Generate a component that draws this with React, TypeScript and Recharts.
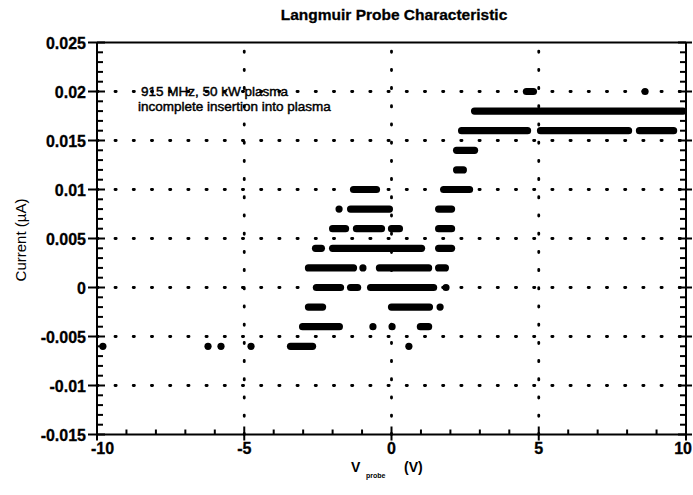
import React from 'react';
import { ScatterChart, Scatter, XAxis, YAxis, ReferenceLine } from 'recharts';

// Readings are quantised to 0.002 µA steps and packed so tightly in voltage
// that they merge into runs: each run is [start V, end V] at one current level.
const runCurrent = [0.02, 0.018, 0.016, 0.016, 0.016, 0.014, 0.012, 0.01, 0.01, 0.008, 0.008, 0.006, 0.006, 0.006, 0.006, 0.004, 0.004, 0.004, 0.002, 0.002, 0.002, 0, 0, 0, -0.002, -0.002, -0.004, -0.004, -0.006];
const runStart = [4.58, 2.82, 2.38, 5.06, 8.42, 2.21, 2.21, -1.29, 1.77, -1.39, 1.6, -2.0, -1.19, 0, 1.6, -2.58, -2.0, 1.6, -2.82, -0.41, 1.6, -2.55, -1.39, -0.71, -2.82, 0, -3.02, 0.98, -3.43];
const runEnd = [4.82, 9.9, 4.62, 8.05, 9.58, 2.82, 2.44, -0.51, 2.65, -0.07, 2.04, -1.56, -0.34, 0.27, 2.04, -2.38, 1.02, 2.04, -1.29, 1.26, 1.83, -1.73, -1.15, 1.43, -2.34, 1.29, -1.77, 1.26, -2.68];

// isolated readings
const singleV = [8.61, -1.78, -0.97, 1.85, 1.65, -0.63, 0.02, -9.8, -6.23, -5.79, -4.77, 0.59];
const singleI = [0.02, 0.008, 0.002, 0, -0.002, -0.004, -0.004, -0.006, -0.006, -0.006, -0.006, -0.006];

// axes
const xDomain = [-10, 10];
const yDomain = [-0.015, 0.025];
const xMajor = [-10, -5, 0, 5, 10];
const yMajor = [-0.015, -0.01, -0.005, 0, 0.005, 0.01, 0.015, 0.02, 0.025];
const gridX = [-5, 0, 5];
const gridY = [-0.01, -0.005, 0, 0.005, 0.01, 0.015, 0.02];

const runs = runCurrent.map((c, k) => ({ c, a: runStart[k], b: runEnd[k] }));
const singles = singleV.map((v, k) => ({ v, i: singleI[k] }));

// minor ticks: every 1 V and every 0.001 µA
const xTicks: number[] = [];
for (let k = -10; k <= 10; k++) xTicks.push(k);
const yTicks: number[] = [];
for (let k = -15; k <= 25; k++) yTicks.push(k / 1000);

const isMajorX = (v: number) => xMajor.includes(v);
const isMajorY = (v: number) => yMajor.some((m) => Math.abs(m - v) < 1e-6);

const FONT = '"Liberation Sans", Arial, Helvetica, sans-serif';
const INK = '#000';

// custom ticks: tickSize/tickMargin are 0 so (x, y) sit on the axis line
const BottomTick = (props: any) => {
    const { x, y, payload } = props;
    const v = payload.value;
    const major = isMajorX(v);
    // end labels are kept inside the page, as in the original
    const anchor = v === xDomain[0] ? 'start' : v === xDomain[1] ? 'end' : 'middle';
    const tx = v === xDomain[0] ? x - 6 : v === xDomain[1] ? x + 6 : x;
    return (
        <g>
            <line x1={x} x2={x} y1={major ? y - 8 : y - 5} y2={major ? y + 6 : y} stroke={INK} strokeWidth={2} />
            {major && (
                <text x={tx} y={y + 19} textAnchor={anchor} fontFamily={FONT} fontWeight="bold" fontSize={16} fill={INK} stroke={INK} strokeWidth={0.3}>
                    {v}
                </text>
            )}
        </g>
    );
};

const TopTick = (props: any) => {
    const { x, y, payload } = props;
    const major = isMajorX(payload.value);
    return <line x1={x} x2={x} y1={major ? y - 6 : y} y2={major ? y + 7 : y + 4} stroke={INK} strokeWidth={2} />;
};

const LeftTick = (props: any) => {
    const { x, y, payload } = props;
    const major = isMajorY(payload.value);
    return (
        <g>
            <line x1={major ? x - 9 : x} x2={major ? x + 8 : x + 6} y1={y} y2={y} stroke={INK} strokeWidth={2} />
            {major && (
                <text x={x - 11} y={y + 6} textAnchor="end" fontFamily={FONT} fontWeight="bold" fontSize={16} fill={INK} stroke={INK} strokeWidth={0.3}>
                    {String(Math.round(payload.value * 1000) / 1000)}
                </text>
            )}
        </g>
    );
};

const RightTick = (props: any) => {
    const { x, y, payload } = props;
    const major = isMajorY(payload.value);
    return <line x1={major ? x - 8 : x - 6} x2={major ? x + 6 : x} y1={y} y2={y} stroke={INK} strokeWidth={2} />;
};

const dotShape = (p: any) => <circle cx={p.cx} cy={p.cy} r={3.6} fill={INK} />;

const axisLine = { stroke: INK, strokeWidth: 2 };

export default function App() {
    return (
        <div style={{ position: 'absolute', left: 0, top: 0, width: 693, height: 495, background: '#fff' }}>
            <ScatterChart width={693} height={495} margin={{ top: 41.5, right: 6, bottom: 59.5, left: 96 }}>
                <XAxis
                    dataKey="v"
                    type="number"
                    domain={xDomain}
                    ticks={xTicks}
                    interval={0}
                    allowDataOverflow
                    height={1}
                    tickSize={0}
                    tickMargin={0}
                    tickLine={false}
                    axisLine={axisLine}
                    tick={<BottomTick />}
                />
                <XAxis
                    xAxisId="top"
                    orientation="top"
                    type="number"
                    domain={xDomain}
                    ticks={xTicks}
                    interval={0}
                    allowDataOverflow
                    height={1}
                    tickSize={0}
                    tickMargin={0}
                    tickLine={false}
                    axisLine={axisLine}
                    tick={<TopTick />}
                />
                <YAxis
                    dataKey="i"
                    type="number"
                    domain={yDomain}
                    ticks={yTicks}
                    interval={0}
                    allowDataOverflow
                    width={1}
                    tickSize={0}
                    tickMargin={0}
                    tickLine={false}
                    axisLine={axisLine}
                    tick={<LeftTick />}
                />
                <YAxis
                    yAxisId="right"
                    orientation="right"
                    type="number"
                    domain={yDomain}
                    ticks={yTicks}
                    interval={0}
                    allowDataOverflow
                    width={1}
                    tickSize={0}
                    tickMargin={0}
                    tickLine={false}
                    axisLine={axisLine}
                    tick={<RightTick />}
                />
                {gridY.map((g) => (
                    <ReferenceLine key={'gy' + g} y={g} stroke={INK} strokeWidth={2.8} strokeLinecap="round" strokeDasharray="1.2 17" strokeDashoffset={-18} />
                ))}
                {gridX.map((g) => (
                    <ReferenceLine key={'gx' + g} x={g} stroke={INK} strokeWidth={2.8} strokeLinecap="round" strokeDasharray="1.2 17" />
                ))}
                {runs.map((r, k) => (
                    <ReferenceLine
                        key={'run' + k}
                        segment={[{ x: r.a, y: r.c }, { x: r.b, y: r.c }]}
                        stroke={INK}
                        strokeWidth={7.2}
                        strokeLinecap="round"
                        ifOverflow="visible"
                    />
                ))}
                <Scatter data={singles} fill={INK} shape={dotShape} isAnimationActive={false} />
            </ScatterChart>
            <svg width={693} height={495} style={{ position: 'absolute', left: 0, top: 0, pointerEvents: 'none' }}>
                <text x={394} y={20} textAnchor="middle" fontFamily={FONT} fontWeight="bold" fontSize={15.5} fill={INK} stroke={INK} strokeWidth={0.3}>
                    Langmuir Probe Characteristic
                </text>
                <text x={141} y={96} fontFamily={FONT} fontSize={13.5} fill={INK} stroke={INK} strokeWidth={0.45}>
                    915 MHz, 50 kW plasma
                </text>
                <text x={138} y={111} fontFamily={FONT} fontSize={13.5} fill={INK} stroke={INK} strokeWidth={0.45}>
                    incomplete insertion into plasma
                </text>
                <text transform="translate(26,240) rotate(-90)" textAnchor="middle" fontFamily={FONT} fontSize={15} fill={INK}>
                    Current (µA)
                </text>
                <text x={351} y={472} fontFamily={FONT} fontWeight="bold" fontSize={14} fill={INK}>V</text>
                <text x={366} y={478} fontFamily={FONT} fontWeight="bold" fontSize={7} fill={INK}>probe</text>
                <text x={404} y={472} fontFamily={FONT} fontWeight="bold" fontSize={14} fill={INK}>(V)</text>
            </svg>
        </div>
    );
}
